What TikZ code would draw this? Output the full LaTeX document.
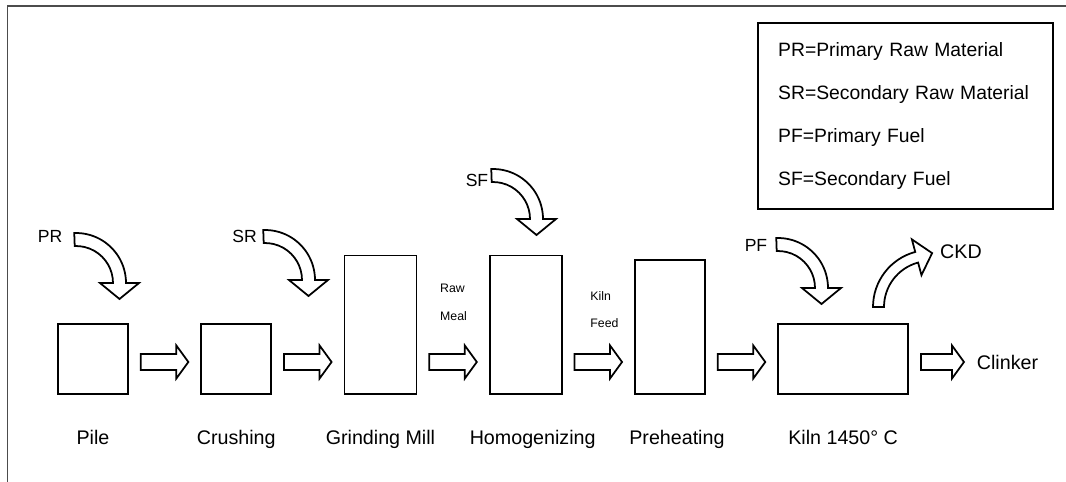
\documentclass[tikz,border=0pt]{standalone}
\usepackage{fontspec}
\setmainfont{Liberation Sans}
\usetikzlibrary{positioning,calc}

\newcommand\flow[2]{%
  \draw let \p1=($(#1.east|-row)+(0.24cm,0)$), \p2=($(#2.west|-row)-(0.24cm,0)$) in
    (\x1,\y1-0.16cm) -- (\x1,\y1+0.16cm) -- (\x2-0.24cm,\y1+0.16cm) -- (\x2-0.24cm,\y1+0.33cm)
    -- (\x2,\y1) -- (\x2-0.24cm,\y1-0.33cm) -- (\x2-0.24cm,\y1-0.16cm) -- cycle;}
\newcommand\bent[5]{%
  \draw[shift={#1},rotate=#2] (#3:#4) arc[start angle=#3,end angle=0,radius=#4]
    -- ({#4+13},0) -- ({(#4+#5)/2},-16) -- ({#5-13},0) -- (#5,0)
    arc[start angle=0,end angle=#3,radius=#5] -- cycle;}

\begin{document}
\begin{tikzpicture}[x=0.02cm,y=0.02cm,line width=1pt,node distance=1.43cm,
    font=\fontsize{11.2}{13}\selectfont,
    box/.style={draw,minimum width=1.4cm,minimum height=1.4cm},
    tall/.style={box,minimum width=1.44cm,minimum height=2.77cm},
    step label/.style={below=0.68cm of #1,inner sep=0},
    small/.style={anchor=west,align=left,inner sep=0,font=\fontsize{7}{16}\selectfont},
    feed/.style={inner sep=0,font=\fontsize{10}{12}\selectfont}]
  \useasboundingbox (0,0) rectangle (1066,481);
  \draw[gray!60!black,line width=1pt] (7.5,-5) -- (7.5,475) -- (1070,475);

  \coordinate (row) at (0,119);
  \node[box] (1) at (93,122) {};
  \node[box,right=of 1.south east,anchor=south west] (2) {};
  \node[tall,right=of 2.south east,anchor=south west] (3) {};
  \node[tall,right=of 3.south east,anchor=south west] (4) {};
  \node[box,minimum height=2.68cm,right=of 4.south east,anchor=south west] (5) {};
  \node[box,minimum width=2.6cm,right=of 5.south east,anchor=south west] (6) {};
  \node[anchor=west,inner sep=0] (7) at ($(6.east|-row)+(1.34cm,0)$) {Clinker};

  \node[step label=1] (l1) {Pile};
  \node[step label=2] (l2) {Crushing};
  \node[step label=3] (l3) {Grinding Mill};
  \node[step label=4,xshift=0.14cm] (l4) {Homogenizing};
  \node[step label=5,xshift=0.14cm] (l5) {Preheating};
  \node[step label=6] (l6) {Kiln 1450° C};

  \flow{1}{2}
  \flow{2}{3}
  \flow{3}{4}
  \flow{4}{5}
  \flow{5}{6}
  \flow{6}{7}
  \node[small] (rm) at ($(3.east|-row)+(0.44cm,1.2cm)$) {Raw\\Meal};
  \node[small,font=\fontsize{7}{15.4}\selectfont] (kf) at ($(4.east|-row)+(0.54cm,1.05cm)$) {Kiln\\Feed};

  \node[feed] (pr) at (50,245) {PR};
  \node[feed] (sr) at (244.5,245) {SR};
  \node[feed] (sf) at (477,301) {SF};
  \node[feed] (pf) at (756,236) {PF};
  \node[inner sep=0] (ckd) at (961,229) {CKD};
  \bent{(76,198)}{0}{92}{50}{37}
  \bent{(265,201)}{0}{92}{50}{37}
  \bent{(493,262)}{0}{92}{50}{37}
  \bent{(778,193)}{0}{92}{50}{37}
  \bent{(930,174)}{105}{75}{57}{46}

  \node[draw,anchor=north east,minimum width=5.9cm,minimum height=3.72cm,text width=5.1cm,
    inner xsep=0.4cm,align=left,font=\fontsize{11}{24.5}\selectfont] (key) at (1054,459)
    {PR=Primary Raw Material\\SR=Secondary Raw Material\\PF=Primary Fuel\\SF=Secondary Fuel};
\end{tikzpicture}
\end{document}
